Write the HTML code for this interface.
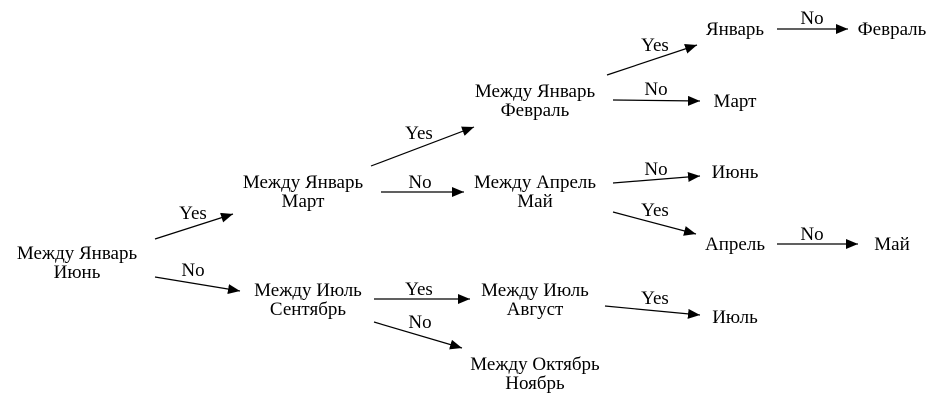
<!DOCTYPE html>
<html><head><meta charset="utf-8"><style>
html,body{margin:0;padding:0;background:#fff;}
svg text{font-family:"Liberation Serif",serif;font-size:19px;fill:#000;text-anchor:middle;}
</style></head><body>
<svg width="944" height="405" viewBox="0 0 944 405" xmlns="http://www.w3.org/2000/svg">
<defs><marker id="a" markerWidth="12" markerHeight="10" refX="12" refY="5" orient="auto" markerUnits="userSpaceOnUse"><path d="M0,0 L12,5 L0,10 z" fill="#000"/></marker></defs>
<g stroke="#000" stroke-width="1.2" fill="none" marker-end="url(#a)">
<line x1="155" y1="239" x2="233" y2="214"/>
<line x1="155" y1="277" x2="240" y2="291"/>
<line x1="371" y1="166" x2="474" y2="127"/>
<line x1="381" y1="192" x2="464" y2="192"/>
<line x1="374" y1="299" x2="470" y2="299"/>
<line x1="374" y1="322" x2="462" y2="348"/>
<line x1="607" y1="75" x2="697" y2="45"/>
<line x1="613" y1="100" x2="700" y2="101"/>
<line x1="613" y1="183" x2="700" y2="176"/>
<line x1="613" y1="212" x2="696" y2="234"/>
<line x1="605" y1="306" x2="700" y2="315"/>
<line x1="777" y1="29" x2="848" y2="29"/>
<line x1="777" y1="244" x2="858" y2="244"/>
</g>
<g transform="translate(0,1)">
<text x="77" y="258">Между Январь</text><text x="77" y="277">Июнь</text>
<text x="303" y="187">Между Январь</text><text x="303" y="206">Март</text>
<text x="308" y="295">Между Июль</text><text x="308" y="314">Сентябрь</text>
<text x="535" y="96">Между Январь</text><text x="535" y="115">Февраль</text>
<text x="535" y="187">Между Апрель</text><text x="535" y="206">Май</text>
<text x="535" y="295">Между Июль</text><text x="535" y="314">Август</text>
<text x="535" y="369">Между Октябрь</text><text x="535" y="388">Ноябрь</text>
<text x="735" y="34">Январь</text>
<text x="892" y="34">Февраль</text>
<text x="735" y="106">Март</text>
<text x="735" y="177">Июнь</text>
<text x="735" y="249">Апрель</text>
<text x="892" y="249">Май</text>
<text x="735" y="322">Июль</text>
<text x="193" y="218">Yes</text>
<text x="193" y="275">No</text>
<text x="419" y="138">Yes</text>
<text x="420" y="187">No</text>
<text x="419" y="294">Yes</text>
<text x="420" y="327">No</text>
<text x="655" y="50">Yes</text>
<text x="656" y="94">No</text>
<text x="656" y="174">No</text>
<text x="655" y="215">Yes</text>
<text x="655" y="303">Yes</text>
<text x="812" y="23">No</text>
<text x="812" y="239">No</text>
</g>
</svg>
</body></html>
